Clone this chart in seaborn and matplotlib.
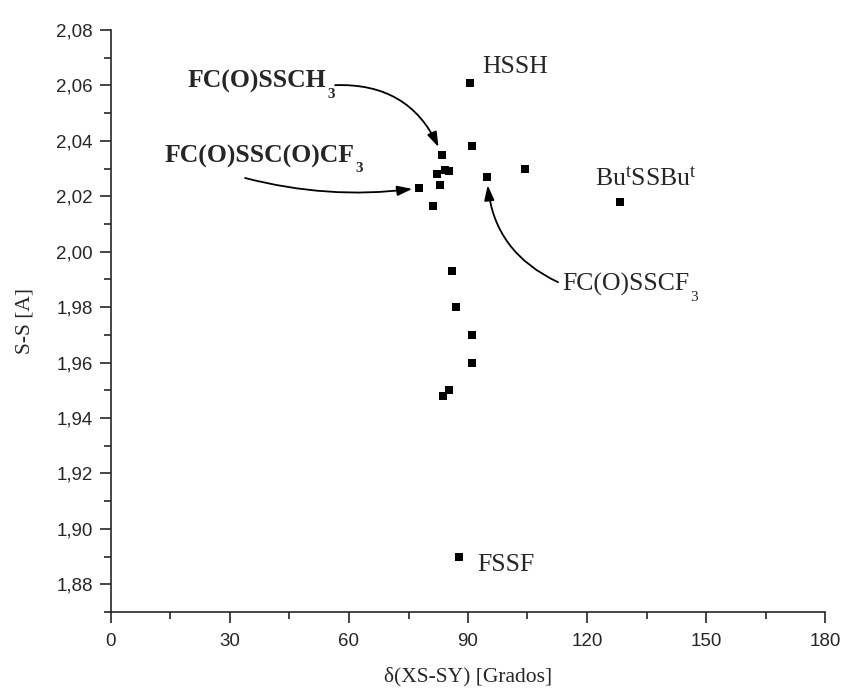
import matplotlib
matplotlib.use("Agg")
import matplotlib.pyplot as plt
from matplotlib.ticker import MultipleLocator, FuncFormatter
import seaborn as sns
import pandas as pd

# ---- data ----
angles = [90.5, 90.9, 83.4, 82.1, 84.2, 85.3, 83.0, 77.7, 81.2, 94.8,
          104.4, 128.3, 86.0, 87.0, 90.9, 90.9, 85.2, 83.8, 87.8]
ss_dist = [2.061, 2.038, 2.035, 2.028, 2.0295, 2.029, 2.024, 2.023, 2.0165, 2.027,
           2.030, 2.018, 1.993, 1.980, 1.970, 1.960, 1.950, 1.948, 1.890]

x_ticks = [0, 30, 60, 90, 120, 150, 180]
y_ticks = [1.88, 1.90, 1.92, 1.94, 1.96, 1.98, 2.00, 2.02, 2.04, 2.06, 2.08]

plain_labels = ["HSSH", r"Bu$^{\mathrm{t}}$SSBu$^{\mathrm{t}}$", "FSSF"]
arrow_main = ["FC(O)SSCH", "FC(O)SSC(O)CF", "FC(O)SSCF"]
arrow_sub = ["3", "3", "3"]
arrow_bold = [True, True, False]
arrow_targets = [2, 7, 9]   # indices of the points the arrows point at

df = pd.DataFrame({"angle": angles, "ss": ss_dist})

sns.set_style("ticks")
plt.rcParams["font.family"] = ["Liberation Serif", "DejaVu Serif"]
plt.rcParams["mathtext.fontset"] = "custom"
plt.rcParams["mathtext.rm"] = "Liberation Serif"
plt.rcParams["mathtext.bf"] = "Liberation Serif:bold"
plt.rcParams["mathtext.it"] = "Liberation Serif:italic"

fig = plt.figure(figsize=(8.45, 6.93), dpi=100)
ax = fig.add_axes([111 / 845, 1 - 612 / 693, (825 - 111) / 845, (612 - 30) / 693])

sns.scatterplot(data=df, x="angle", y="ss", marker="s", s=36, color="black",
                linewidth=0, ax=ax, zorder=3)

ax.set_xlim(0, 180)
ax.set_ylim(1.87, 2.08)
ax.set_xticks(x_ticks)
ax.set_yticks(y_ticks)
ax.xaxis.set_minor_locator(MultipleLocator(15))
ax.yaxis.set_minor_locator(MultipleLocator(0.01))
ax.yaxis.set_major_formatter(FuncFormatter(lambda v, p: f"{v:.2f}".replace(".", ",")))
ax.xaxis.set_major_formatter(FuncFormatter(lambda v, p: f"{v:.0f}"))

sns.despine(ax=ax)
for s in ("left", "bottom"):
    ax.spines[s].set_linewidth(1.2)
ax.tick_params(which="major", length=8, width=1.2, direction="out")
ax.tick_params(which="minor", length=5, width=1.2, direction="out")
ax.tick_params(axis="x", which="major", pad=7)
ax.tick_params(axis="y", which="major", pad=5)
for lab in ax.get_xticklabels() + ax.get_yticklabels():
    lab.set_fontfamily("Liberation Sans")
    lab.set_fontsize(13.5)

ax.set_xlabel("δ(XS-SY) [Grados]", fontsize=15.5, labelpad=12)
ax.set_ylabel("S-S [A]", fontsize=15.5, labelpad=16)

FS = 18.5
SUB = 11

# plain labels
ax.text(93.5, 2.0645, plain_labels[0], fontsize=FS, ha="left", va="baseline")
ax.text(122.0, 2.024, plain_labels[1], fontsize=FS, ha="left", va="baseline")
ax.text(92.3, 1.8847, plain_labels[2], fontsize=FS, ha="left", va="baseline")

# arrow labels with lowered subscripts
text_pos = [(19.4, 2.0591), (13.6, 2.0323), (113.7, 1.9861)]
for (tx, ty), main, sub, bold in zip(text_pos, arrow_main, arrow_sub, arrow_bold):
    w = "bold" if bold else "normal"
    m = ax.text(tx, ty, main, fontsize=FS, fontweight=w, ha="left", va="baseline")
    ax.annotate(sub, xy=(1, 0), xycoords=m, xytext=(0.5, -3.5), textcoords="offset points",
                fontsize=SUB, fontweight=w, ha="left", va="baseline")

arrow_starts = [(56.5, 2.0601), (33.8, 2.0266), (112.7, 1.989)]
arrow_rads = [-0.35, 0.1, -0.3]
arrow_shrink = [6, 5, 6]
for idx, (sx, sy), rad, shr in zip(arrow_targets, arrow_starts, arrow_rads, arrow_shrink):
    ax.annotate("", xy=(angles[idx], ss_dist[idx]), xytext=(sx, sy),
                arrowprops=dict(arrowstyle="-|>,head_length=0.9,head_width=0.3",
                                connectionstyle=f"arc3,rad={rad}", color="black",
                                lw=1.3, shrinkA=0, shrinkB=shr))

fig.savefig("out.png", dpi=100)
